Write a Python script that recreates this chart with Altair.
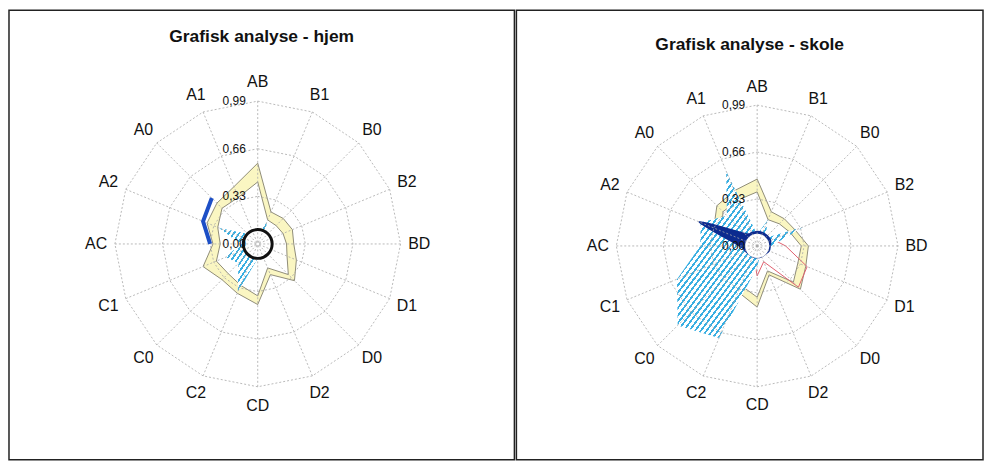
import altair as alt
import pandas as pd

# ---------------- data ----------------
categories = ["AB", "B1", "B0", "B2", "BD", "D1", "D0", "D2",
              "CD", "C2", "C0", "C1", "AC", "A2", "A0", "A1"]

tick_values = [0.00, 0.33, 0.66, 0.99]
tick_labels = ["0,00", "0,33", "0,66", "0,99"]

# panel 1: hjem
hjem_outer = [0.56, 0.24, 0.25, 0.26, 0.25, 0.29, 0.36, 0.23,
              0.42, 0.37, 0.35, 0.41, 0.31, 0.38, 0.40, 0.43]
hjem_inner = [0.43, 0.18, 0.18, 0.19, 0.20, 0.22, 0.30, 0.18,
              0.36, 0.31, 0.29, 0.31, 0.26, 0.30, 0.35, 0.35]
hjem_hatch = [0.08, 0.16, 0.08, 0.06, 0.06, 0.06, 0.06, 0.06,
              0.10, 0.36, 0.19, 0.24, 0.12, 0.29, 0.10, 0.08]
hjem_blue = [None, None, None, None, None, None, None, None,
             None, None, None, None, 0.33, 0.41, 0.45, None]
hjem_circle = [0.10, 0.10, 0.10, 0.10, 0.10, 0.10, 0.10, 0.10,
               0.10, 0.10, 0.10, 0.10, 0.10, 0.10, 0.10, 0.10]

# panel 2: skole
skole_outer = [0.47, 0.26, 0.27, 0.29, 0.36, 0.37, 0.43, 0.22,
               0.43, 0.35, 0.30, 0.26, 0.22, 0.33, 0.40, 0.42]
skole_inner = [0.38, 0.20, 0.22, 0.25, 0.31, 0.31, 0.36, 0.19,
               0.36, 0.30, 0.25, 0.20, 0.17, 0.27, 0.34, 0.35]
skole_red = [0.05, 0.07, 0.08, 0.12, 0.20, 0.38, 0.41, 0.12,
             0.21, 0.07, 0.05, 0.05, 0.05, 0.05, 0.05, 0.05]
skole_hatch = [0.08, 0.20, 0.08, 0.35, 0.10, 0.06, 0.06, 0.06,
               0.15, 0.70, 0.79, 0.61, 0.40, 0.43, 0.30, 0.57]
skole_navy = [0.10, 0.10, 0.10, 0.10, 0.09, 0.09, 0.08, 0.08,
              0.08, 0.08, 0.08, 0.09, 0.12, 0.44, 0.12, 0.10]
skole_center = [0.085, 0.085, 0.085, 0.085, 0.085, 0.085, 0.085, 0.085,
                0.085, 0.085, 0.085, 0.085, 0.085, 0.085, 0.085, 0.085]

# ---------------- styles ----------------
FONT = "Liberation Sans"
N = len(categories)
LABEL_R = 1.12
YELLOW = "#faf6c2"
OUTLINE = "#8f8c78"
CYAN = "#3aafe2"
NAVY = "#0c2b8f"
ROYAL = "#1d4fc6"
RED = "#e0606e"
GRID = "#a8a8a8"


def hatch(n):
    stops = []
    for k in range(n):
        a = k / n
        b = (k + 0.4) / n
        c = (k + 1) / n
        stops += [alt.GradientStop(color=CYAN, offset=a),
                  alt.GradientStop(color=CYAN, offset=b),
                  alt.GradientStop(color="#ffffff", offset=b),
                  alt.GradientStop(color="#ffffff", offset=c)]
    return alt.Gradient(gradient="linear", stops=stops, x1=0, y1=0, x2=1, y2=1)


def series_df(values):
    rows = [{"idx": i, "cat": c, "value": v}
            for i, (c, v) in enumerate(zip(categories, values)) if v is not None]
    return pd.DataFrame(rows)


def polar(chart):
    return chart.transform_calculate(
        ang="datum.idx * 2 * PI / %d" % N
    ).transform_calculate(
        px="datum.value * sin(datum.ang)",
        py="datum.value * cos(datum.ang)",
        zero="0",
    )


def enc(xdom, ydom):
    return dict(
        x=alt.X("px:Q", scale=alt.Scale(domain=xdom, nice=False, zero=False), axis=None),
        y=alt.Y("py:Q", scale=alt.Scale(domain=ydom, nice=False, zero=False), axis=None),
    )


def poly(values, xdom, ydom, **mark):
    return polar(alt.Chart(series_df(values))).mark_line(**mark).encode(
        order="idx:Q", **enc(xdom, ydom))


def grid_layers(xdom, ydom):
    ring_rows = [{"ring": r, "idx": i, "value": r}
                 for r in tick_values[1:] for i in range(N)]
    rings = polar(alt.Chart(pd.DataFrame(ring_rows))).mark_line(
        interpolate="linear-closed", stroke=GRID, strokeWidth=0.8, strokeDash=[2, 2]
    ).encode(order="idx:Q", detail="ring:N", **enc(xdom, ydom))
    spoke_rows = [{"idx": i, "value": tick_values[-1]} for i in range(N)]
    spokes = polar(alt.Chart(pd.DataFrame(spoke_rows))).mark_rule(
        stroke=GRID, strokeWidth=0.8, strokeDash=[2, 2]
    ).encode(x2="zero:Q", y2="zero:Q", **enc(xdom, ydom))
    return [rings, spokes]


def text_layers(xdom, ydom):
    lab = pd.DataFrame({"idx": list(range(N)), "cat": categories})
    cats = polar(alt.Chart(lab).transform_calculate(value=str(LABEL_R))).mark_text(
        font=FONT, fontSize=16, color="#111"
    ).encode(text="cat:N", **enc(xdom, ydom))
    tk = pd.DataFrame({"idx": [0] * len(tick_values), "value": tick_values, "lab": tick_labels})
    ticks = polar(alt.Chart(tk)).mark_text(
        font=FONT, fontSize=12, align="right", baseline="middle", dx=-12, color="#111"
    ).encode(text="lab:N", **enc(xdom, ydom))
    return [cats, ticks]


# ---------------- panel 1 ----------------
W1, H = 508, 452
S1 = 145.0
C1x, C1y = 250, 235
xd1 = [-C1x / S1, (W1 - C1x) / S1]
yd1 = [-(H - C1y) / S1, C1y / S1]

p1 = alt.layer(
    poly(hjem_outer, xd1, yd1, interpolate="linear-closed", fill=YELLOW, stroke=OUTLINE, strokeWidth=1),
    poly(hjem_inner, xd1, yd1, interpolate="linear-closed", fill="#ffffff", stroke=OUTLINE, strokeWidth=1),
    poly(hjem_hatch, xd1, yd1, interpolate="linear-closed", fill=hatch(18), strokeOpacity=0),
    poly(hjem_circle, xd1, yd1, interpolate="cardinal-closed", fill="#ffffff", strokeOpacity=0),
    *grid_layers(xd1, yd1),
    poly(hjem_circle, xd1, yd1, interpolate="cardinal-closed", stroke="#111111", strokeWidth=3),
    poly(hjem_blue, xd1, yd1, interpolate="linear", stroke=ROYAL, strokeWidth=4),
    *text_layers(xd1, yd1),
).properties(
    width=W1, height=H,
    title=alt.TitleParams("Grafisk analyse - hjem", offset=-36),
)

# ---------------- panel 2 ----------------
W2 = 469
S2 = 143.0
C2x, C2y = 242, 237
xd2 = [-C2x / S2, (W2 - C2x) / S2]
yd2 = [-(H - C2y) / S2, C2y / S2]

p2 = alt.layer(
    poly(skole_outer, xd2, yd2, interpolate="linear-closed", fill=YELLOW, stroke=OUTLINE, strokeWidth=1),
    poly(skole_inner, xd2, yd2, interpolate="linear-closed", fill="#ffffff", stroke=OUTLINE, strokeWidth=1),
    poly(skole_red, xd2, yd2, interpolate="linear-closed", stroke=RED, strokeWidth=1),
    poly(skole_hatch, xd2, yd2, interpolate="linear-closed", fill=hatch(44), strokeOpacity=0),
    poly(skole_navy, xd2, yd2, interpolate="cardinal-closed", tension=0.3, fill=NAVY, stroke=NAVY, strokeWidth=2),
    poly(skole_center, xd2, yd2, interpolate="cardinal-closed", fill="#ffffff", strokeOpacity=0),
    *grid_layers(xd2, yd2),
    *text_layers(xd2, yd2),
).properties(
    width=W2, height=H,
    title=alt.TitleParams("Grafisk analyse - skole", offset=-44),
)

chart = alt.hconcat(p1, p2, spacing=0).properties(padding=0).configure_view(
    stroke="#222222", strokeWidth=1.5
).configure_title(
    font=FONT, fontSize=17.5, fontWeight="bold", anchor="middle", color="#111"
)

chart.save("out.html", embed_options={"renderer": "svg", "actions": False})
